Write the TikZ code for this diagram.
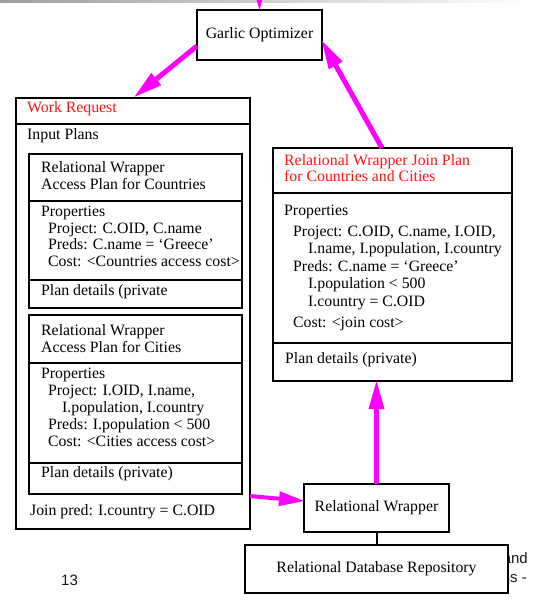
\documentclass[tikz,border=0pt]{standalone}
\usepackage{fontspec}
\setmainfont{Liberation Serif}
\newfontfamily\slidesans{Liberation Sans}
\usetikzlibrary{arrows.meta}
\definecolor{flowpink}{RGB}{255,0,255}
\definecolor{titlered}{RGB}{255,20,20}

\begin{document}
\begin{tikzpicture}[x=1pt,y=-1pt,
  frame/.style={draw=black, line width=2.9pt, fill=white, inner sep=0pt, outer sep=0pt,
    anchor=north west, font=\fontsize{15.8}{17}\selectfont},
  rule/.style={draw=black, line width=2.6pt},
  txt/.style={anchor=base west, inner sep=0pt, font=\fontsize{15.8}{17}\selectfont},
  title/.style={txt, text=titlered},
  sans/.style={inner sep=0pt, font=\slidesans\fontsize{15}{17}\selectfont, text=black!90},
  flow/.style={draw=flowpink, line width=5pt,
    -{Triangle[length=28pt,width=16pt,line width=0pt]}},
  feedflow/.style={draw=flowpink, line width=4pt,
    -{Triangle[length=25pt,width=15pt,line width=0pt]}},
  link/.style={draw=black, line width=2pt}]

\useasboundingbox (0,0) rectangle (533,604);
\begin{scope}
\clip (0,0) rectangle (533,604);

% header strip of the slide
\shade[left color=black!38, right color=white] (0,0) rectangle (533,3);

% slide footer text partly covered by the repository box
\node[sans, anchor=base east] (foot1) at (528,563) {and};
\node[sans, anchor=base east] (foot2) at (527,582) {ns -};
\node[sans, anchor=base west] (pageno) at (61,585) {13};

% optimizer
\node[frame, minimum width=125pt, minimum height=50pt] (garlic) at (197,10) {Garlic Optimizer};

% work request with its two input plans
\node[frame, minimum width=234pt, minimum height=431pt] (wr) at (16,98) {};
\draw[rule] ([yshift=-26pt]wr.north west) -- ([yshift=-26pt]wr.north east);
\node[title] (wrtitle) at (27,113) {Work Request};
\node[txt] (wrinput) at (27,140) {Input Plans};

\node[frame, minimum width=213pt, minimum height=154pt] (cty) at (29,154) {};
\draw[rule] ([yshift=-47pt]cty.north west) -- ([yshift=-47pt]cty.north east);
\draw[rule] ([yshift=28pt]cty.south west) -- ([yshift=28pt]cty.south east);
\node[txt] (cty1) at (41,172) {Relational Wrapper};
\node[txt] (cty2) at (41,189) {Access Plan for Countries};
\node[txt] (cty3) at (41,216) {Properties};
\node[txt] (cty4) at (48,233) {Project: C.OID, C.name};
\node[txt] (cty5) at (48,249.5) {Preds: C.name = ‘Greece’};
\node[txt] (cty6) at (48,266.5) {Cost: <Countries access cost>};
\node[txt] (cty7) at (41,295) {Plan details (private};

\node[frame, minimum width=213pt, minimum height=179pt] (cit) at (29,315) {};
\draw[rule] ([yshift=-48pt]cit.north west) -- ([yshift=-48pt]cit.north east);
\draw[rule] ([yshift=31pt]cit.south west) -- ([yshift=31pt]cit.south east);
\node[txt] (cit1) at (41,335) {Relational Wrapper};
\node[txt] (cit2) at (41,352) {Access Plan for Cities};
\node[txt] (cit3) at (41,378.5) {Properties};
\node[txt] (cit4) at (48,395) {Project: I.OID, I.name,};
\node[txt] (cit5) at (62,412) {I.population, I.country};
\node[txt] (cit6) at (48,429) {Preds: I.population < 500};
\node[txt] (cit7) at (48,446) {Cost: <Cities access cost>};
\node[txt] (cit8) at (41,477) {Plan details (private)};
\node[txt] (wrjoin) at (30,515) {Join pred: I.country = C.OID};

% join plan produced by the wrapper
\node[frame, minimum width=239pt, minimum height=233pt] (join) at (273,148) {};
\draw[rule] ([yshift=-45pt]join.north west) -- ([yshift=-45pt]join.north east);
\draw[rule] ([yshift=38pt]join.south west) -- ([yshift=38pt]join.south east);
\node[title] (jn1) at (284,165) {Relational Wrapper Join Plan};
\node[title] (jn2) at (284,182) {for Countries and Cities};
\node[txt] (jn3) at (284,215) {Properties};
\node[txt] (jn4) at (293,236) {Project: C.OID, C.name, I.OID,};
\node[txt] (jn5) at (308,253) {I.name, I.population, I.country};
\node[txt] (jn6) at (293,271) {Preds: C.name = ‘Greece’};
\node[txt] (jn7) at (308,288) {I.population < 500};
\node[txt] (jn8) at (308,306) {I.country = C.OID};
\node[txt] (jn9) at (293,327) {Cost: <join cost>};
\node[txt] (jn10) at (285,363) {Plan details (private)};

% wrapper and its repository
\node[frame, minimum width=145pt, minimum height=48pt] (rw) at (304,484) {Relational Wrapper};
\node[frame, minimum width=263pt, minimum height=48pt] (repo) at (245,545) {Relational Database Repository};
\draw[link] (rw.south) -- (rw.south |- repo.north);

% message flow
\coordinate (feed) at ([yshift=40pt]garlic.north);
\draw[flow] (feed) -- (garlic.north);
\draw[flow, shorten >=2pt] ([yshift=-11pt]garlic.west) -- (wr.north);
\draw[flow] ([xshift=-10.5pt]join.north) -- ([yshift=-6pt]garlic.east);
\draw[flow] (rw.north) -- (rw.north |- join.south);
\draw[feedflow] ([yshift=33pt]wr.south east) -- ([yshift=7pt]rw.west);
\end{scope}
\end{tikzpicture}
\end{document}
